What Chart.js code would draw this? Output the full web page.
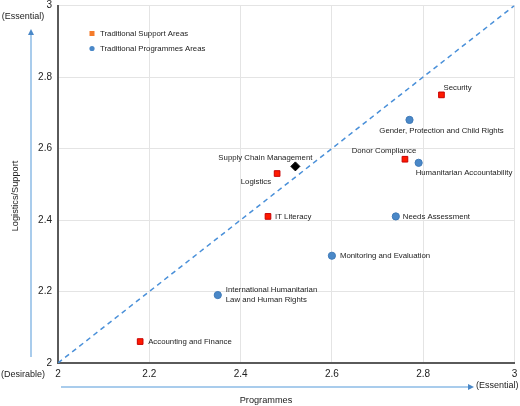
<!DOCTYPE html>
<html><head><meta charset="utf-8">
<script src="https://cdn.jsdelivr.net/npm/chart.js@4/dist/chart.umd.min.js"></script>
<style>html,body{margin:0;padding:0;background:#fff}#wrap{width:520px;height:406px}</style>
</head><body><div id="wrap"><canvas id="c" width="520" height="406"></canvas></div>
<script>
// ---- data ----
const supportNames = ["Security", "Donor Compliance", "Logistics", "IT Literacy", "Accounting and Finance"];
const supportProg  = [2.84, 2.76, 2.48, 2.46, 2.18];
const supportLog   = [2.75, 2.57, 2.53, 2.41, 2.06];

const progNames = ["Gender, Protection and Child Rights", "Humanitarian Accountability", "Needs Assessment", "Monitoring and Evaluation", "International Humanitarian\nLaw and Human Rights"];
const progProg  = [2.77, 2.79, 2.74, 2.60, 2.35];
const progLog   = [2.68, 2.56, 2.41, 2.30, 2.19];

const scmNames = ["Supply Chain Management"];
const scmProg  = [2.52];
const scmLog   = [2.55];

const diagX = [2, 3];
const diagY = [2, 3];

const xTicks = [2, 2.2, 2.4, 2.6, 2.8, 3];
const yTicks = [2, 2.2, 2.4, 2.6, 2.8, 3];
const legendLabels = ["Traditional Support Areas", "Traditional Programmes Areas"];

// label placement styles (per point, relative to marker)
const supportLabelStyle = [
  {dx: 2, dy: -7, align: "left"},
  {dx: -21, dy: -8, align: "center"},
  {dx: -6, dy: 8, align: "right"},
  {dx: 7, dy: 0, align: "left"},
  {dx: 8, dy: 0, align: "left"}
];
const progLabelStyle = [
  {dx: 32, dy: 11, align: "center"},
  {dx: -3, dy: 10, align: "left"},
  {dx: 7, dy: 0, align: "left"},
  {dx: 8, dy: 0, align: "left"},
  {dx: 8, dy: 0, align: "left"}
];
const scmLabelStyle = [{dx: -30, dy: -9, align: "center"}];

const toPts = (xs, ys) => xs.map((x, i) => ({x: x, y: ys[i]}));

const FONT = "'Liberation Sans', Arial, Helvetica, sans-serif";

const overlay = {
  id: "overlay",
  afterDatasetsDraw(chart) {
    const ctx = chart.ctx;
    const ca = chart.chartArea;
    ctx.save();
    // point labels
    ctx.font = "7.8px " + FONT;
    ctx.fillStyle = "#222";
    ctx.textBaseline = "middle";
    const sets = [[0, supportNames, supportLabelStyle], [1, progNames, progLabelStyle], [2, scmNames, scmLabelStyle]];
    sets.forEach(([di, names, styles]) => {
      const meta = chart.getDatasetMeta(di);
      meta.data.forEach((el, i) => {
        const st = styles[i];
        const lines = names[i].split("\n");
        ctx.textAlign = st.align;
        const h = 9.5;
        const y0 = el.y + st.dy - (lines.length - 1) * h / 2;
        lines.forEach((ln, k) => ctx.fillText(ln, el.x + st.dx, y0 + k * h));
      });
    });

    // legend inside plot
    const lx = ca.left + 34, ly = ca.top + 28;
    ctx.textAlign = "left";
    ctx.fillStyle = "#f47b2a";
    ctx.fillRect(lx - 2.5, ly - 2.5, 5, 5);
    ctx.fillStyle = "#4a88c8";
    ctx.beginPath(); ctx.arc(lx, ly + 15, 2.6, 0, Math.PI * 2); ctx.fill();
    ctx.fillStyle = "#222";
    ctx.fillText(legendLabels[0], lx + 8, ly);
    ctx.fillText(legendLabels[1], lx + 8, ly + 15);

    // axis arrows
    ctx.strokeStyle = "#8dbbe6";
    ctx.fillStyle = "#4a88c8";
    ctx.lineWidth = 1.5;
    const ax = 31;
    ctx.beginPath(); ctx.moveTo(ax, ca.bottom - 6); ctx.lineTo(ax, 35); ctx.stroke();
    ctx.beginPath(); ctx.moveTo(ax, 29); ctx.lineTo(ax - 3, 35); ctx.lineTo(ax + 3, 35); ctx.closePath(); ctx.fill();
    const ay = 387;
    ctx.beginPath(); ctx.moveTo(61, ay); ctx.lineTo(468, ay); ctx.stroke();
    ctx.beginPath(); ctx.moveTo(474, ay); ctx.lineTo(468, ay - 3); ctx.lineTo(468, ay + 3); ctx.closePath(); ctx.fill();

    // axis end labels & titles
    ctx.fillStyle = "#222";
    ctx.font = "9px " + FONT;
    ctx.textAlign = "center";
    ctx.fillText("(Essential)", 23, 17);
    ctx.fillText("(Desirable)", 23, 375);
    ctx.textAlign = "left";
    ctx.fillText("(Essential)", 476, 386);
    ctx.font = "9.2px " + FONT;
    ctx.textAlign = "center";
    ctx.fillText("Programmes", 266, 400);
    ctx.save();
    ctx.translate(15, 196);
    ctx.rotate(-Math.PI / 2);
    ctx.fillText("Logistics/Support", 0, 0);
    ctx.restore();
    ctx.restore();
  }
};

new Chart(document.getElementById("c"), {
  type: "scatter",
  data: {
    datasets: [
      {label: legendLabels[0], data: toPts(supportProg, supportLog), pointStyle: "rect",
       pointRadius: 4, backgroundColor: "#ff1a00", borderColor: "#c80000", borderWidth: 1},
      {label: legendLabels[1], data: toPts(progProg, progLog), pointStyle: "circle",
       pointRadius: 3.6, backgroundColor: "#4a88c8", borderColor: "#3f7ab8", borderWidth: 1},
      {label: scmNames[0], data: toPts(scmProg, scmLog), pointStyle: "rectRot",
       pointRadius: 4.5, backgroundColor: "#000", borderColor: "#000", borderWidth: 1},
      {type: "line", label: "diag", data: toPts(diagX, diagY), borderColor: "#4a90d9",
       borderWidth: 1.5, borderDash: [5, 4], pointRadius: 0, fill: false, showLine: true}
    ]
  },
  options: {
    responsive: false,
    animation: false,
    events: [],
    layout: {padding: {left: 28, right: 3, top: 5, bottom: 23}},
    plugins: {legend: {display: false}, tooltip: {enabled: false}},
    scales: {
      x: {
        type: "linear", min: 2, max: 3,
        afterBuildTicks: s => { s.ticks = xTicks.map(v => ({value: v})); },
        afterFit: s => { s.height = 20; s.paddingLeft = 0; s.paddingRight = 0; },
        grid: {color: "#e4e4e4", lineWidth: 1, drawTicks: false},
        border: {color: "#5a5a5a", width: 2},
        ticks: {padding: 5, color: "#222", font: {size: 10, family: FONT}, callback: v => String(v)}
      },
      y: {
        type: "linear", min: 2, max: 3,
        afterBuildTicks: s => { s.ticks = yTicks.map(v => ({value: v})); },
        afterFit: s => { s.width = 30; s.paddingTop = 0; s.paddingBottom = 0; },
        grid: {color: "#e4e4e4", lineWidth: 1, drawTicks: false},
        border: {color: "#5a5a5a", width: 2},
        ticks: {padding: 6, color: "#222", font: {size: 10, family: FONT}, callback: v => String(v)}
      }
    }
  },
  plugins: [overlay]
});
</script>
</body></html>
